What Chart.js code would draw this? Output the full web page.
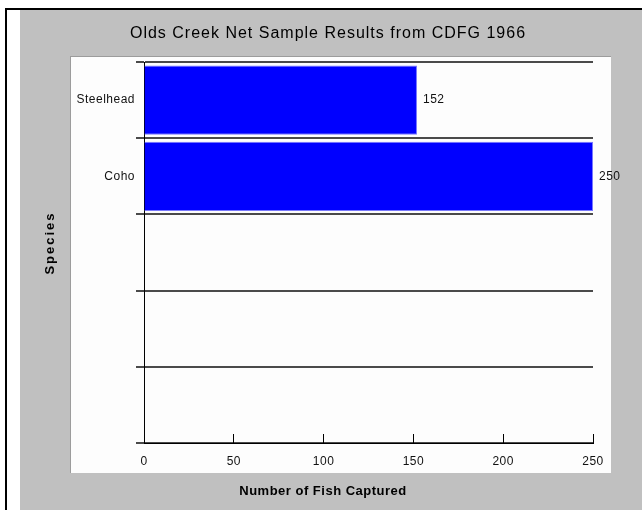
<!DOCTYPE html>
<html>
<head>
<meta charset="utf-8">
<script src="https://cdn.jsdelivr.net/npm/chart.js@4/dist/chart.umd.min.js"></script>
<style>
  html, body { margin: 0; padding: 0; background: #fff; }
  canvas { display: block; }
</style>
</head>
<body>
<canvas id="c" width="642" height="510"></canvas>
<script>
// Net sample counts by species
const chartTitle = 'Olds Creek Net Sample Results from CDFG 1966';
const species = ['Steelhead', 'Coho', '', '', ''];
const fishCaptured = [152, 250, null, null, null];
const xTicks = [0, 50, 100, 150, 200, 250];
const yAxisTitle = 'Species';
const xAxisTitle = 'Number of Fish Captured';

const FONT = '"Liberation Sans", Arial, sans-serif';

// Frame: outer black rule, grey panel, white plot panel
const backdrop = {
  id: 'backdrop',
  beforeDraw(chart) {
    const ctx = chart.ctx;
    ctx.letterSpacing = '0.5px';
    ctx.save();
    ctx.fillStyle = '#ffffff';
    ctx.fillRect(0, 0, chart.width, chart.height);
    ctx.fillStyle = '#000000';
    ctx.fillRect(5, 8, 2, chart.height - 8);
    ctx.fillRect(5, 8, chart.width - 5, 2);
    ctx.fillStyle = '#c0c0c0';
    ctx.fillRect(20, 10, chart.width - 20, chart.height - 10);
    ctx.fillStyle = '#fdfdfd';
    ctx.fillRect(71, 57, 540, 416);
    ctx.fillStyle = '#9c9c9c';
    ctx.fillRect(71, 56, 540, 1);
    ctx.fillRect(70, 56, 1, 417);
    ctx.restore();
  }
};

// Value labels at the end of each bar, and the chart/axis titles
const annotations = {
  id: 'annotations',
  afterDatasetsDraw(chart) {
    const ctx = chart.ctx;
    const meta = chart.getDatasetMeta(0);
    ctx.save();
    ctx.font = '12px ' + FONT;
    ctx.letterSpacing = '0.5px';
    ctx.fillStyle = '#111';
    ctx.textAlign = 'left';
    ctx.textBaseline = 'middle';
    meta.data.forEach((bar, i) => {
      const v = fishCaptured[i];
      if (v == null) return;
      ctx.fillText(String(v), bar.x + 6, bar.y);
    });
    ctx.restore();
  },
  afterDraw(chart) {
    const ctx = chart.ctx;
    ctx.save();
    ctx.fillStyle = '#000';
    ctx.textAlign = 'center';
    ctx.textBaseline = 'middle';
    ctx.font = '16px ' + FONT;
    ctx.letterSpacing = '1px';
    ctx.fillText(chartTitle, 328, 34);
    ctx.font = 'bold 13px ' + FONT;
    ctx.letterSpacing = '0.5px';
    ctx.fillText(xAxisTitle, 323, 491);
    ctx.translate(50, 243);
    ctx.rotate(-Math.PI / 2);
    ctx.letterSpacing = '2px';
    ctx.fillText(yAxisTitle, 0, 0);
    ctx.restore();
  }
};

new Chart(document.getElementById('c'), {
  type: 'bar',
  data: {
    labels: species,
    datasets: [{
      data: fishCaptured,
      backgroundColor: '#0000ff',
      borderColor: '#7878ff',
      borderWidth: 1,
      categoryPercentage: 1,
      barPercentage: 0.91
    }]
  },
  options: {
    indexAxis: 'y',
    responsive: false,
    animation: false,
    devicePixelRatio: 1,
    layout: { padding: { left: 20, right: 49, top: 62, bottom: 0 } },
    plugins: {
      legend: { display: false },
      tooltip: { enabled: false },
      title: { display: false }
    },
    scales: {
      y: {
        type: 'category',
        grid: { offset: true, color: '#4a4a4a', lineWidth: 2, tickLength: 8 },
        border: { color: '#000', width: 1 },
        ticks: { font: { size: 12, family: FONT }, color: '#111', padding: 1 },
        afterFit(scale) { scale.width = 124; }
      },
      x: {
        min: 0,
        max: 250,
        grid: { drawOnChartArea: false, tickLength: -9, color: '#000', lineWidth: 1 },
        border: { color: '#000', width: 1 },
        ticks: { font: { size: 12, family: FONT }, color: '#111', padding: 20 },
        afterBuildTicks(scale) { scale.ticks = xTicks.map(v => ({ value: v })); },
        afterFit(scale) { scale.height = 67; }
      }
    }
  },
  plugins: [backdrop, annotations]
});
</script>
</body>
</html>
